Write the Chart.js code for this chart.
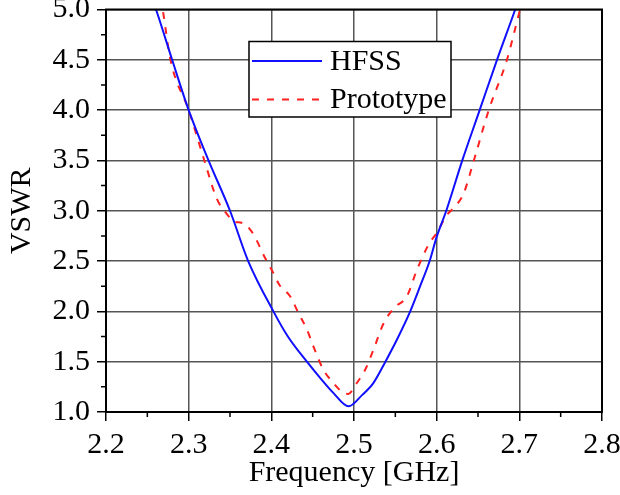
<!DOCTYPE html>
<html>
<head>
<meta charset="utf-8">
<script src="https://cdn.jsdelivr.net/npm/chart.js@4.4.1/dist/chart.umd.min.js"></script>
<style>
  html, body { margin: 0; padding: 0; background: #fff; }
  #wrap { width: 620px; height: 495px; }
</style>
</head>
<body>
<div id="wrap"><canvas id="chart1" width="620" height="495"></canvas></div>
<script>
// HFSS simulation
var hfssFreq = [2.255, 2.2605, 2.28, 2.30, 2.324, 2.35, 2.372, 2.4025, 2.42, 2.443, 2.46, 2.475, 2.4934, 2.51, 2.5236, 2.538, 2.552, 2.568, 2.58, 2.5915, 2.60, 2.6116, 2.631, 2.652, 2.673, 2.695, 2.70];
var hfssVswr = [5.12, 5.0, 4.5, 4.0, 3.5, 3.0, 2.5, 2.0, 1.75, 1.5, 1.33, 1.19, 1.056, 1.17, 1.29, 1.5, 1.72, 2.0, 2.25, 2.5, 2.74, 3.0, 3.5, 4.0, 4.5, 5.0, 5.12];

// measured prototype
var protoFreq = [2.266, 2.2686, 2.278, 2.30, 2.319, 2.334, 2.346, 2.356, 2.364, 2.3765, 2.3925, 2.4025, 2.41, 2.4227, 2.433, 2.443, 2.451, 2.463, 2.475, 2.487, 2.493, 2.5035, 2.5135, 2.5236, 2.5357, 2.548, 2.564, 2.576, 2.59, 2.60, 2.6125, 2.622, 2.6325, 2.645, 2.663, 2.685, 2.701, 2.704];
var protoVswr = [5.12, 5.0, 4.5, 4.0, 3.5, 3.12, 2.97, 2.89, 2.88, 2.79, 2.53, 2.38, 2.26, 2.15, 1.98, 1.82, 1.65, 1.42, 1.29, 1.19, 1.18, 1.29, 1.42, 1.62, 1.88, 2.03, 2.15, 2.41, 2.66, 2.78, 2.96, 3.04, 3.17, 3.5, 4.0, 4.5, 5.0, 5.08];

var xMinor = [2.25, 2.35, 2.45, 2.55, 2.65, 2.75];
var yMinor = [1.25, 1.75, 2.25, 2.75, 3.25, 3.75, 4.25, 4.75];

var serif = "'Liberation Serif', 'Times New Roman', serif";

function toPoints(xs, ys) {
	var pts = [];
	for (var i = 0; i < xs.length; i++) pts.push({x: xs[i], y: ys[i]});
	return pts;
}

// frame, minor ticks and the boxed legend
var extras = {
	id: 'extras',
	afterDraw: function(chart) {
		var ctx = chart.ctx, a = chart.chartArea;
		var xs = chart.scales.x, ys = chart.scales.y;
		ctx.save();
		ctx.strokeStyle = '#000';
		ctx.lineWidth = 1.5;
		ctx.beginPath();
		xMinor.forEach(function(v) {
			var p = xs.getPixelForValue(v);
			ctx.moveTo(p, a.bottom); ctx.lineTo(p, a.bottom + 5);
		});
		yMinor.forEach(function(v) {
			var p = ys.getPixelForValue(v);
			ctx.moveTo(a.left, p); ctx.lineTo(a.left - 5, p);
		});
		ctx.stroke();
		ctx.lineWidth = 2;
		ctx.strokeRect(a.left, a.top, a.right - a.left, a.bottom - a.top);

		// legend
		var bx = 249, by = 41.5, bw = 202, bh = 75.5;
		ctx.fillStyle = '#fff';
		ctx.fillRect(bx, by, bw, bh);
		ctx.lineWidth = 1.5;
		ctx.strokeRect(bx, by, bw, bh);
		ctx.font = '30px ' + serif;
		ctx.textBaseline = 'middle';
		ctx.textAlign = 'left';
		chart.data.datasets.forEach(function(ds, i) {
			var y = by + 19.5 + i * 38.5;
			ctx.strokeStyle = ds.borderColor;
			ctx.lineWidth = ds.borderWidth;
			ctx.setLineDash(ds.borderDash || []);
			ctx.beginPath();
			ctx.moveTo(bx + 3, y); ctx.lineTo(bx + 73, y);
			ctx.stroke();
			ctx.setLineDash([]);
			ctx.fillStyle = '#000';
			ctx.fillText(ds.label, bx + 81, y + 1);
		});
		ctx.restore();
	}
};

new Chart(document.getElementById("chart1"), {
	type: 'line',
	data: {
		datasets: [
			{
				label: "HFSS",
				data: toPoints(hfssFreq, hfssVswr),
				borderColor: "#1010ff",
				borderWidth: 2,
				pointRadius: 0,
				cubicInterpolationMode: 'monotone',
				fill: false
			},
			{
				label: "Prototype",
				data: toPoints(protoFreq, protoVswr),
				borderColor: "#ff2020",
				borderWidth: 2,
				borderDash: [7, 8],
				pointRadius: 0,
				cubicInterpolationMode: 'monotone',
				fill: false
			}
		]
	},
	options: {
		responsive: false,
		animation: false,
		events: [],
		layout: { padding: { top: 9.5, right: 18, left: 0, bottom: 0 } },
		plugins: {
			legend: { display: false },
			tooltip: { enabled: false }
		},
		scales: {
			x: {
				type: 'linear',
				min: 2.2,
				max: 2.8,
				afterFit: function(s) { s.height = 83; s.paddingLeft = 0; s.paddingRight = 0; },
				ticks: {
					stepSize: 0.1,
					color: '#000',
					padding: 6,
					font: { family: serif, size: 30 },
					callback: function(v) { return v.toFixed(1); }
				},
				grid: { color: '#555', lineWidth: 1.5, tickLength: 9, tickColor: '#000', tickWidth: 1.5 },
				border: { color: '#000', width: 2 },
				title: {
					display: true,
					text: 'Frequency [GHz]',
					color: '#000',
					font: { family: serif, size: 30 },
					padding: { top: 0, bottom: 4 }
				}
			},
			y: {
				min: 1.0,
				max: 5.0,
				afterFit: function(s) { s.width = 106; s.paddingTop = 0; s.paddingBottom = 0; },
				ticks: {
					stepSize: 0.5,
					color: '#000',
					padding: 7,
					font: { family: serif, size: 30 },
					callback: function(v) { return v.toFixed(1); }
				},
				grid: { color: '#555', lineWidth: 1.5, tickLength: 9, tickColor: '#000', tickWidth: 1.5 },
				border: { color: '#000', width: 2 },
				title: {
					display: true,
					text: 'VSWR',
					color: '#000',
					font: { family: serif, size: 30 },
					padding: { top: 4.5, bottom: 0 }
				}
			}
		}
	},
	plugins: [extras]
});
</script>
</body>
</html>
